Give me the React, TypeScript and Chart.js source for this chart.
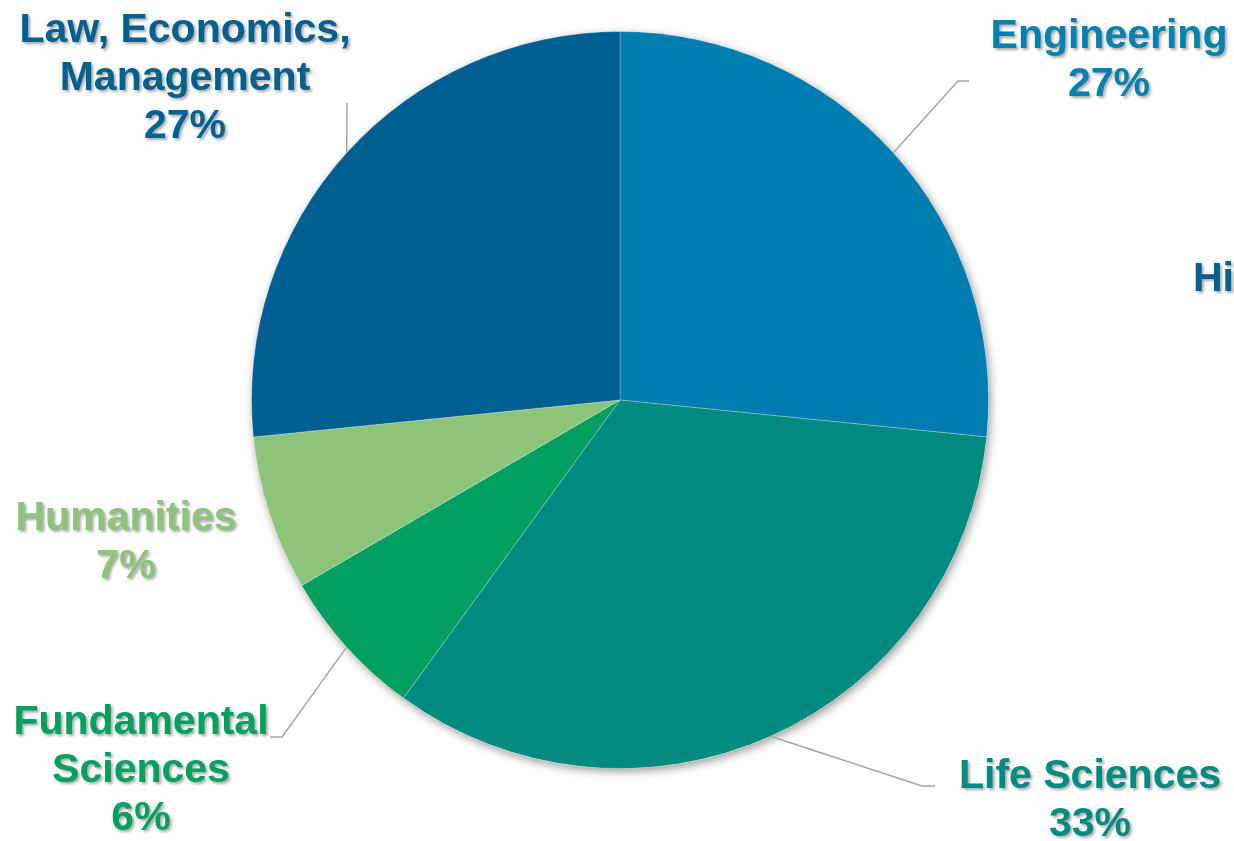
import React, { useEffect, useRef } from "react";
import { Chart, registerables } from "chart.js";

Chart.register(...registerables);

const categories = [
  "Engineering",
  "Life Sciences",
  "Fundamental Sciences",
  "Humanities",
  "Law, Economics, Management",
];
const shares = [26.6, 33.4, 6.6, 6.8, 26.6];
const shareLabels = ["27%", "33%", "6%", "7%", "27%"];
const labelLines = [
  ["Engineering"],
  ["Life Sciences"],
  ["Fundamental", "Sciences"],
  ["Humanities"],
  ["Law, Economics,", "Management"],
];
const sliceColors = ["#007DB0", "#008A80", "#009E5F", "#8DC47A", "#005F90"];
const labelColors = ["#0081B2", "#008A80", "#00A060", "#8DC47A", "#00608F"];
const titleText = "Higher Education";

// layout for labels: center x, first baseline, elbow, line end
const labelLayout = [
  { cx: 1109, y: 48, elbow: [958, 81], end: [969, 81] },
  { cx: 1090, y: 788, elbow: [922, 786], end: [935, 786] },
  { cx: 141, y: 734, elbow: [282, 737], end: [270, 737] },
  { cx: 126, y: 530, elbow: null, end: null },
  { cx: 185, y: 42, elbow: [347, 103], end: [347, 103] },
];

const pieShadow = {
  id: "pieShadow",
  beforeDatasetsDraw(chart: any) {
    const meta = chart.getDatasetMeta(0);
    const a = meta.data[0];
    if (!a) return;
    const ctx = chart.ctx;
    ctx.save();
    ctx.shadowColor = "rgba(0,0,0,0.4)";
    ctx.shadowBlur = 10;
    ctx.shadowOffsetX = 2;
    ctx.shadowOffsetY = 3;
    ctx.fillStyle = "#ffffff";
    ctx.beginPath();
    ctx.arc(a.x, a.y, a.outerRadius, 0, Math.PI * 2);
    ctx.fill();
    ctx.restore();
  },
};

const pieLabels = {
  id: "pieLabels",
  afterDatasetsDraw(chart: any) {
    const ctx = chart.ctx;
    const meta = chart.getDatasetMeta(0);
    ctx.save();
    meta.data.forEach((arc: any, i: number) => {
      const lay = labelLayout[i];
      if (!lay.elbow) return;
      const mid = (arc.startAngle + arc.endAngle) / 2;
      const sx = arc.x + Math.cos(mid) * arc.outerRadius;
      const sy = arc.y + Math.sin(mid) * arc.outerRadius;
      ctx.strokeStyle = "#A6A6A6";
      ctx.lineWidth = 1.5;
      ctx.beginPath();
      ctx.moveTo(sx, sy);
      ctx.lineTo(lay.elbow[0], lay.elbow[1]);
      ctx.lineTo(lay.end![0], lay.end![1]);
      ctx.stroke();
    });
    ctx.font = "bold 41px 'Liberation Sans', Arial, sans-serif";
    ctx.textAlign = "center";
    ctx.textBaseline = "alphabetic";
    ctx.shadowColor = "rgba(0,0,0,0.35)";
    ctx.shadowBlur = 3;
    ctx.shadowOffsetX = 2;
    ctx.shadowOffsetY = 2;
    meta.data.forEach((_arc: any, i: number) => {
      const lay = labelLayout[i];
      const lines = [...labelLines[i], shareLabels[i]];
      ctx.fillStyle = labelColors[i];
      lines.forEach((t, k) => {
        ctx.fillText(t, lay.cx, lay.y + k * 48);
      });
    });
    ctx.textAlign = "left";
    ctx.fillStyle = "#00608F";
    ctx.fillText(titleText, 1193, 291);
    ctx.restore();
  },
};

export default function App() {
  const ref = useRef<HTMLCanvasElement>(null);
  useEffect(() => {
    if (!ref.current) return;
    const chart = new Chart(ref.current, {
      type: "pie",
      data: {
        labels: categories,
        datasets: [
          {
            data: shares,
            backgroundColor: sliceColors,
            borderColor: "rgba(255,255,255,0.25)",
            borderWidth: 1,
          },
        ],
      },
      options: {
        responsive: false,
        animation: false,
        layout: { padding: { top: 31, bottom: 72, left: 251, right: 245 } },
        plugins: {
          legend: { display: false },
          tooltip: { enabled: false },
        },
      },
      plugins: [pieShadow, pieLabels],
    });
    return () => chart.destroy();
  }, []);
  return (
    <div style={{ position: "fixed", left: 0, top: 0, width: 1234, height: 841, background: "#fff" }}>
      <canvas ref={ref} width={1234} height={841} style={{ width: 1234, height: 841 }} />
    </div>
  );
}
